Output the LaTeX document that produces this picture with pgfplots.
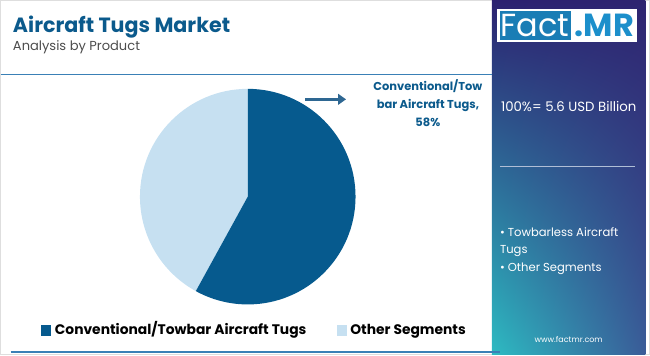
\documentclass[border=0pt]{standalone}
\usepackage{fontspec}
\setmainfont{Poppins}
\usepackage{pgfplots}
\usepackage{pgfplotstable}
\pgfplotsset{compat=1.18}
\usetikzlibrary{arrows.meta,shadings}

\definecolor{darkslice}{HTML}{065A8E}
\definecolor{lightslice}{HTML}{C6E0F1}
\definecolor{titleblue}{HTML}{0B5A8C}
\definecolor{rulecol}{HTML}{3A80B6}
\definecolor{panTL}{HTML}{2C2170}
\definecolor{panTR}{HTML}{2E2470}
\definecolor{panBL}{HTML}{2DBBC2}
\definecolor{panBR}{HTML}{3A5C98}
\definecolor{logoblue}{HTML}{1A7DB5}
\definecolor{mrblue}{HTML}{1C8FCB}

% share of the market, percent
\pgfplotstableread{
segment share
conv 58
other 42
}\pietable

\begin{document}
\begin{tikzpicture}
\pgfplotstablegetelem{0}{share}\of\pietable \let\sharea\pgfplotsretval
\begin{axis}[
    scale only axis,
    width=487.5pt, height=266.25pt,
    xmin=0, xmax=650, ymin=0, ymax=355,
    y dir=reverse,
    axis lines=none,
    clip=false,
]
% frame
\draw[color=black!13, line width=0.8pt] (axis cs:0,0) rectangle (axis cs:650,355);

% right panel
\shade[upper left=panTL, upper right=panTR, lower left=panBL, lower right=panBR]
    (axis cs:492,0) rectangle (axis cs:646,355);
\fill[white] (axis cs:497,8) rectangle (axis cs:638,42);
\fill[logoblue] (axis cs:500,10) rectangle (axis cs:571,40);
\node[anchor=center, text=white, font=\fontsize{24}{24}\selectfont] at (axis cs:535.5,25) {Fact};
\node[anchor=center, text=mrblue, font=\fontsize{24}{24}\bfseries\selectfont] at (axis cs:605,25) {.MR};
\node[anchor=base west, text=white, font=\fontsize{10}{12}\selectfont, inner sep=0pt] at (axis cs:501,111) {100\%= 5.6 USD Billion};
\draw[white!60!panBR, line width=1pt] (axis cs:500,166) -- (axis cs:636,166);
\node[anchor=base west, text=white, font=\fontsize{8.7}{13}\selectfont, inner sep=0pt] at (axis cs:500,236) {• Towbarless Aircraft};
\node[anchor=base west, text=white, font=\fontsize{8.7}{13}\selectfont, inner sep=0pt] at (axis cs:500,253) {Tugs};
\node[anchor=base west, text=white, font=\fontsize{8.7}{13}\selectfont, inner sep=0pt] at (axis cs:500,271) {• Other Segments};
\node[anchor=base, text=white, font=\fontsize{6}{7}\selectfont, inner sep=0pt] at (axis cs:569,343) {www.factmr.com};

% title
\node[anchor=base west, text=titleblue, font=\fontsize{15.5}{18}\bfseries\selectfont, inner sep=0pt] at (axis cs:12,32) {Aircraft Tugs Market};
\node[anchor=base west, text=black!70, font=\fontsize{9.8}{12}\selectfont, inner sep=0pt] at (axis cs:12,50) {Analysis by Product};
\draw[rulecol, line width=1.1pt] (axis cs:0,74) -- (axis cs:492,74);
\draw[rulecol, line width=1.1pt] (axis cs:10,352) -- (axis cs:500,352);

% pie
\pgfmathsetmacro{\enda}{90-3.6*\sharea}
\fill[lightslice] (axis cs:247.5,196.5) -- ++(90:81pt) arc[start angle=90, end angle=\enda+360, radius=81pt] -- cycle;
\fill[darkslice] (axis cs:247.5,196.5) -- ++(90:81pt) arc[start angle=90, end angle=\enda, radius=81pt] -- cycle;

% annotation
\draw[rulecol!80!black, line width=2.2pt, -{Triangle[length=6pt,width=8pt]}] (axis cs:305,99) -- (axis cs:346,99);
\node[anchor=center, text=titleblue, font=\fontsize{8.6}{13.5}\bfseries\selectfont, align=center] at (axis cs:428,103)
    {Conventional/Tow\\bar Aircraft Tugs,\\58\%};

% legend
\fill[darkslice] (axis cs:40,325) rectangle (axis cs:50,336);
\node[anchor=base west, text=black, font=\fontsize{10.4}{12}\bfseries\selectfont, inner sep=0pt] at (axis cs:54,335) {Conventional/Towbar Aircraft Tugs};
\fill[lightslice] (axis cs:337,325) rectangle (axis cs:347,336);
\node[anchor=base west, text=black, font=\fontsize{10.4}{12}\bfseries\selectfont, inner sep=0pt] at (axis cs:350,335) {Other Segments};
\end{axis}
\end{tikzpicture}
\end{document}
